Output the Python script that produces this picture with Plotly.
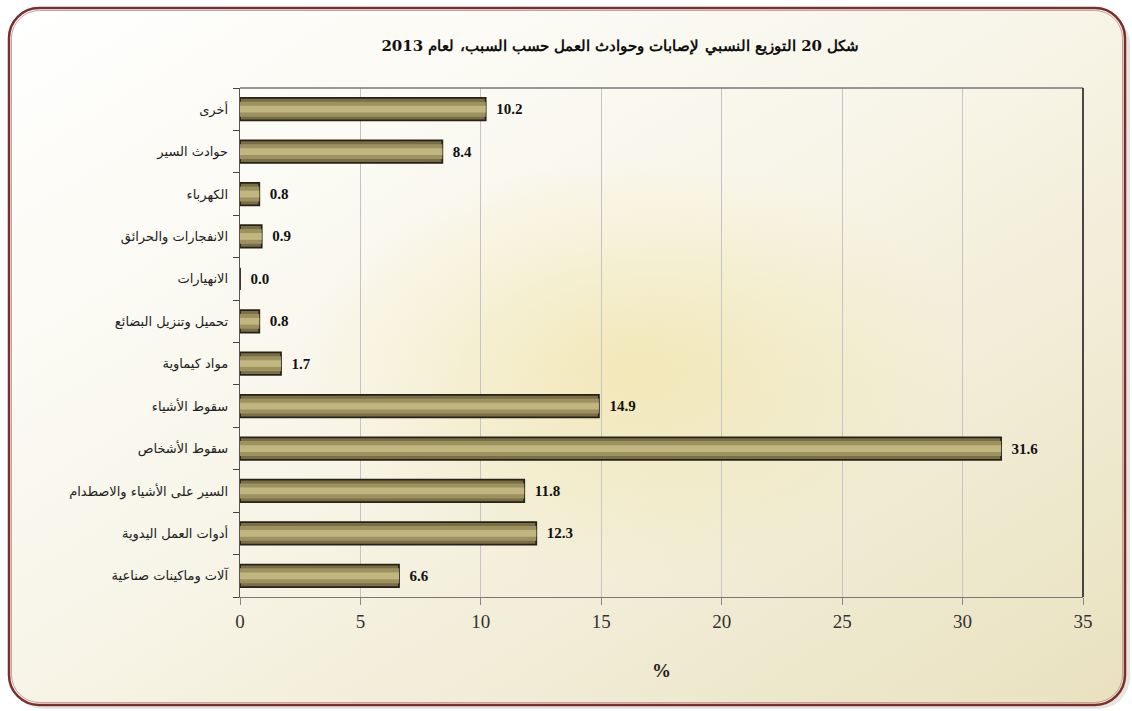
import plotly.graph_objects as go
import urllib.parse

# Data (bottom to top)
categories = [
    "آلات وماكينات صناعية",
    "أدوات العمل اليدوية",
    "السير على الأشياء والاصطدام",
    "سقوط الأشخاص",
    "سقوط الأشياء",
    "مواد كيماوية",
    "تحميل وتنزيل البضائع",
    "الانهيارات",
    "الانفجارات والحرائق",
    "الكهرباء",
    "حوادث السير",
    "أخرى",
]
values = [6.6, 12.3, 11.8, 31.6, 14.9, 1.7, 0.8, 0.0, 0.9, 0.8, 8.4, 10.2]
x_ticks = [0, 5, 10, 15, 20, 25, 30, 35]
title_text = "شكل 20 التوزيع النسبي لإصابات وحوادث العمل حسب السبب، لعام 2013"

W, H = 1132, 711
ML, MR, MT, MB = 240, 49, 88, 114
PW, PH = W - ML - MR, H - MT - MB

svg = f'''<svg xmlns="http://www.w3.org/2000/svg" width="{W}" height="{H}" viewBox="0 0 {W} {H}">
<defs>
<linearGradient id="lg" x1="0" y1="0" x2="1" y2="1">
<stop offset="0" stop-color="#ffffff"/>
<stop offset="0.45" stop-color="#f8f6ea"/>
<stop offset="1" stop-color="#e9e1bf"/>
</linearGradient>
<radialGradient id="rg" cx="0.56" cy="0.52" r="0.30">
<stop offset="0" stop-color="#f1e3a6" stop-opacity="0.7"/>
<stop offset="1" stop-color="#f1e3a6" stop-opacity="0"/>
</radialGradient>
</defs>
<rect x="0" y="0" width="{W}" height="{H}" fill="#ffffff"/>
<rect x="12" y="12" width="{W-14}" height="{H-14}" rx="32" ry="32" fill="#d8d4c8" opacity="0.6"/>
<rect x="9" y="8" width="{W-16}" height="{H-14}" rx="30" ry="30" fill="url(#lg)" stroke="#7a2e2e" stroke-width="2.5"/>
<rect x="9" y="8" width="{W-16}" height="{H-14}" rx="30" ry="30" fill="url(#rg)"/>
<rect x="11.5" y="10.5" width="{W-21}" height="{H-19}" rx="28" ry="28" fill="none" stroke="#c9a0a0" stroke-width="1"/>
</svg>'''
src = "data:image/svg+xml;charset=utf-8," + urllib.parse.quote(svg)

fig = go.Figure()
# base bar (dark edge)
fig.add_trace(go.Bar(
    x=values, y=categories, orientation="h", width=0.53,
    marker=dict(color="#7a6e45", line=dict(color="#24221a", width=1.8)),
    text=[f"\u00a0\u00a0<b>{v:.1f}</b>" for v in values], textposition="outside",
    textfont=dict(family="Liberation Serif, Times New Roman, serif", size=15, color="#111"),
    cliponaxis=False, hoverinfo="skip",
))
# bevel layers
fig.add_trace(go.Bar(
    x=values, y=categories, orientation="h", width=0.35,
    marker=dict(color="#9d9160", line=dict(width=0)), hoverinfo="skip",
))
fig.add_trace(go.Bar(
    x=values, y=categories, orientation="h", width=0.16,
    marker=dict(color="#c2b680", line=dict(width=0)), hoverinfo="skip",
))

fig.update_layout(
    width=W, height=H,
    margin=dict(l=ML, r=MR, t=MT, b=MB),
    paper_bgcolor="#ffffff", plot_bgcolor="rgba(0,0,0,0)",
    barmode="overlay", showlegend=False,
    title=dict(text="<b>" + title_text + "</b>", x=0.548, xanchor="center", y=0.935, yanchor="middle",
               font=dict(family="DejaVu Serif, Liberation Serif, serif", size=15, color="#111")),
    images=[dict(source=src, xref="paper", yref="paper",
                 x=-ML / PW, y=1 + MT / PH, sizex=W / PW, sizey=H / PH,
                 xanchor="left", yanchor="top", sizing="stretch", layer="below")],
    font=dict(family="Liberation Serif, DejaVu Sans, serif", color="#222"),
)
fig.update_xaxes(
    range=[0, 35], tickvals=x_ticks, ticktext=[str(t) for t in x_ticks],
    showgrid=True, gridcolor="#c4c4c4", gridwidth=1,
    showline=True, linecolor="#777", mirror=False,
    ticks="outside", ticklen=7, tickcolor="#888",
    tickfont=dict(family="Liberation Serif, Times New Roman, serif", size=19, color="#333"),
    title=dict(text="<b>%</b>", font=dict(family="Liberation Serif, serif", size=19, color="#222"), standoff=32),
    zeroline=False,
)
fig.update_yaxes(
    categoryorder="array", categoryarray=categories,
    showline=True, linecolor="#555", ticks="outside", ticklen=6, tickcolor="#444",
    tickson="boundaries", showgrid=False,
    tickfont=dict(family="DejaVu Sans, serif", size=13, color="#222"),
    ticksuffix="  ",
)
# plot frame (top and right)
fig.add_shape(type="line", xref="paper", yref="paper", x0=0, x1=1, y0=1, y1=1,
              line=dict(color="#777", width=1.5))
fig.add_shape(type="line", xref="paper", yref="paper", x0=1, x1=1, y0=0, y1=1,
              line=dict(color="#111", width=1.5))

fig.write_html("out.html", config={"displayModeBar": False},
               post_script="document.body.style.margin='0';document.body.style.overflow='hidden';")
